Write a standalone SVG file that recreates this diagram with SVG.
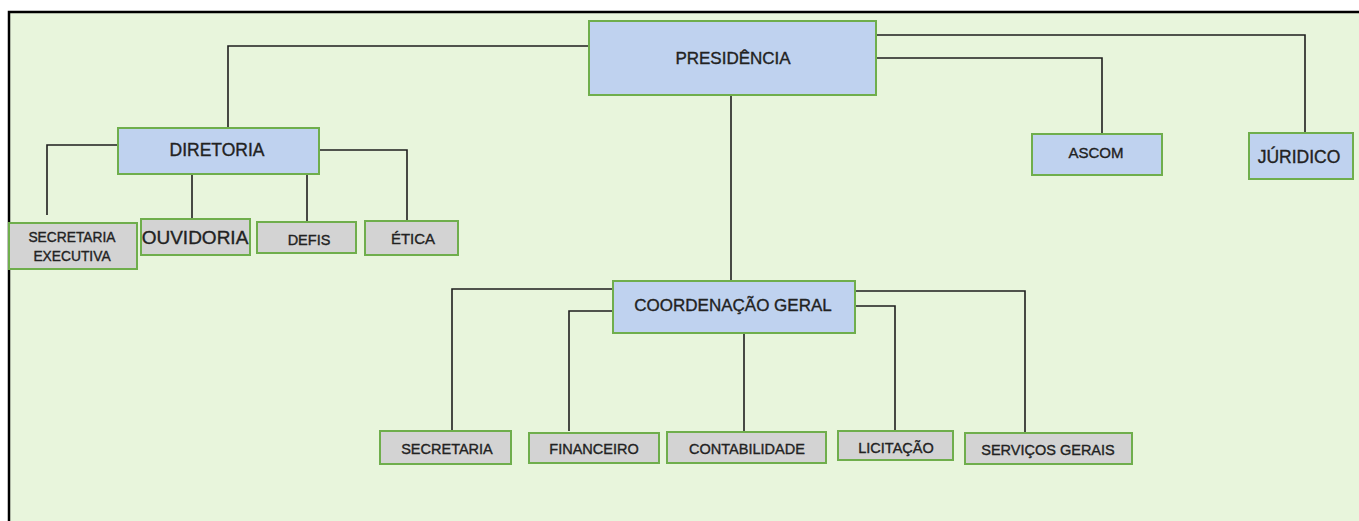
<svg xmlns="http://www.w3.org/2000/svg" width="1359" height="521" viewBox="0 0 1359 521">
<style>
.bl{fill:#bfd2ef;stroke:#6fae4c;stroke-width:2}
.gr{fill:#d3d3d3;stroke:#6fae4c;stroke-width:2}
text{font-family:"Liberation Sans",Arial,sans-serif;fill:#222;stroke:#222;stroke-width:0.35;text-anchor:middle}
.c{fill:none;stroke:#1e1e1e;stroke-width:1.6}
</style>
<rect x="0" y="0" width="1359" height="521" fill="#ffffff"/>
<rect x="9" y="12" width="1352" height="512" fill="#e8f5dc"/>
<path d="M9 524 V12 H1359" fill="none" stroke="#000" stroke-width="2.5"/>
<g id="connectors" class="c">
<path class="c" d="M589 46 H228 V128"/>
<path class="c" d="M118 145 H47 V215"/>
<path class="c" d="M192 174 V219"/>
<path class="c" d="M307 174 V222"/>
<path class="c" d="M319 150 H407 V221"/>
<path class="c" d="M876 35 H1305 V133"/>
<path class="c" d="M876 58 H1102 V134"/>
<path class="c" d="M731 95 V281"/>
<path class="c" d="M613 289 H452 V430"/>
<path class="c" d="M613 311 H569 V431"/>
<path class="c" d="M744 333 V432"/>
<path class="c" d="M855 291 H1025 V432"/>
<path class="c" d="M855 306 H895 V431"/>
</g>
<g id="presidencia"><rect class="bl" x="589" y="21" width="287" height="74"/><text x="733" y="64" font-size="17">PRESIDÊNCIA</text></g>
<g id="diretoria"><rect class="bl" x="118" y="128" width="201" height="46"/><text x="217" y="156" font-size="17.5">DIRETORIA</text></g>
<g id="secretaria-executiva"><rect class="gr" x="9" y="223" width="128" height="46"/><text x="72" y="242" font-size="13.8">SECRETARIA</text><text x="72" y="261" font-size="13.8">EXECUTIVA</text></g>
<g id="ouvidoria"><rect class="gr" x="141" y="219" width="109" height="36"/><text x="195" y="244" font-size="19">OUVIDORIA</text></g>
<g id="defis"><rect class="gr" x="257" y="222" width="99" height="31"/><text x="309" y="245" font-size="14.5">DEFIS</text></g>
<g id="etica"><rect class="gr" x="365" y="221" width="93" height="34"/><text x="413" y="244" font-size="15">ÉTICA</text></g>
<g id="ascom"><rect class="bl" x="1032" y="134" width="130" height="41"/><text x="1096" y="158" font-size="15">ASCOM</text></g>
<g id="juridico"><rect class="bl" x="1249" y="133" width="104" height="46"/><text x="1299" y="163" font-size="17.5">JÚRIDICO</text></g>
<g id="coordenacao-geral"><rect class="bl" x="613" y="281" width="242" height="52"/><text x="733" y="311" font-size="17">COORDENAÇÃO GERAL</text></g>
<g id="secretaria"><rect class="gr" x="380" y="431" width="131" height="33"/><text x="447" y="454" font-size="14.5">SECRETARIA</text></g>
<g id="financeiro"><rect class="gr" x="529" y="433" width="130" height="30"/><text x="594" y="454" font-size="14.5">FINANCEIRO</text></g>
<g id="contabilidade"><rect class="gr" x="667" y="432" width="159" height="31"/><text x="747" y="454" font-size="14.5">CONTABILIDADE</text></g>
<g id="licitacao"><rect class="gr" x="838" y="431" width="115" height="29"/><text x="896" y="453" font-size="14.5">LICITAÇÃO</text></g>
<g id="servicos-gerais"><rect class="gr" x="965" y="433" width="167" height="31"/><text x="1048" y="455" font-size="14.5">SERVIÇOS GERAIS</text></g>
</svg>
